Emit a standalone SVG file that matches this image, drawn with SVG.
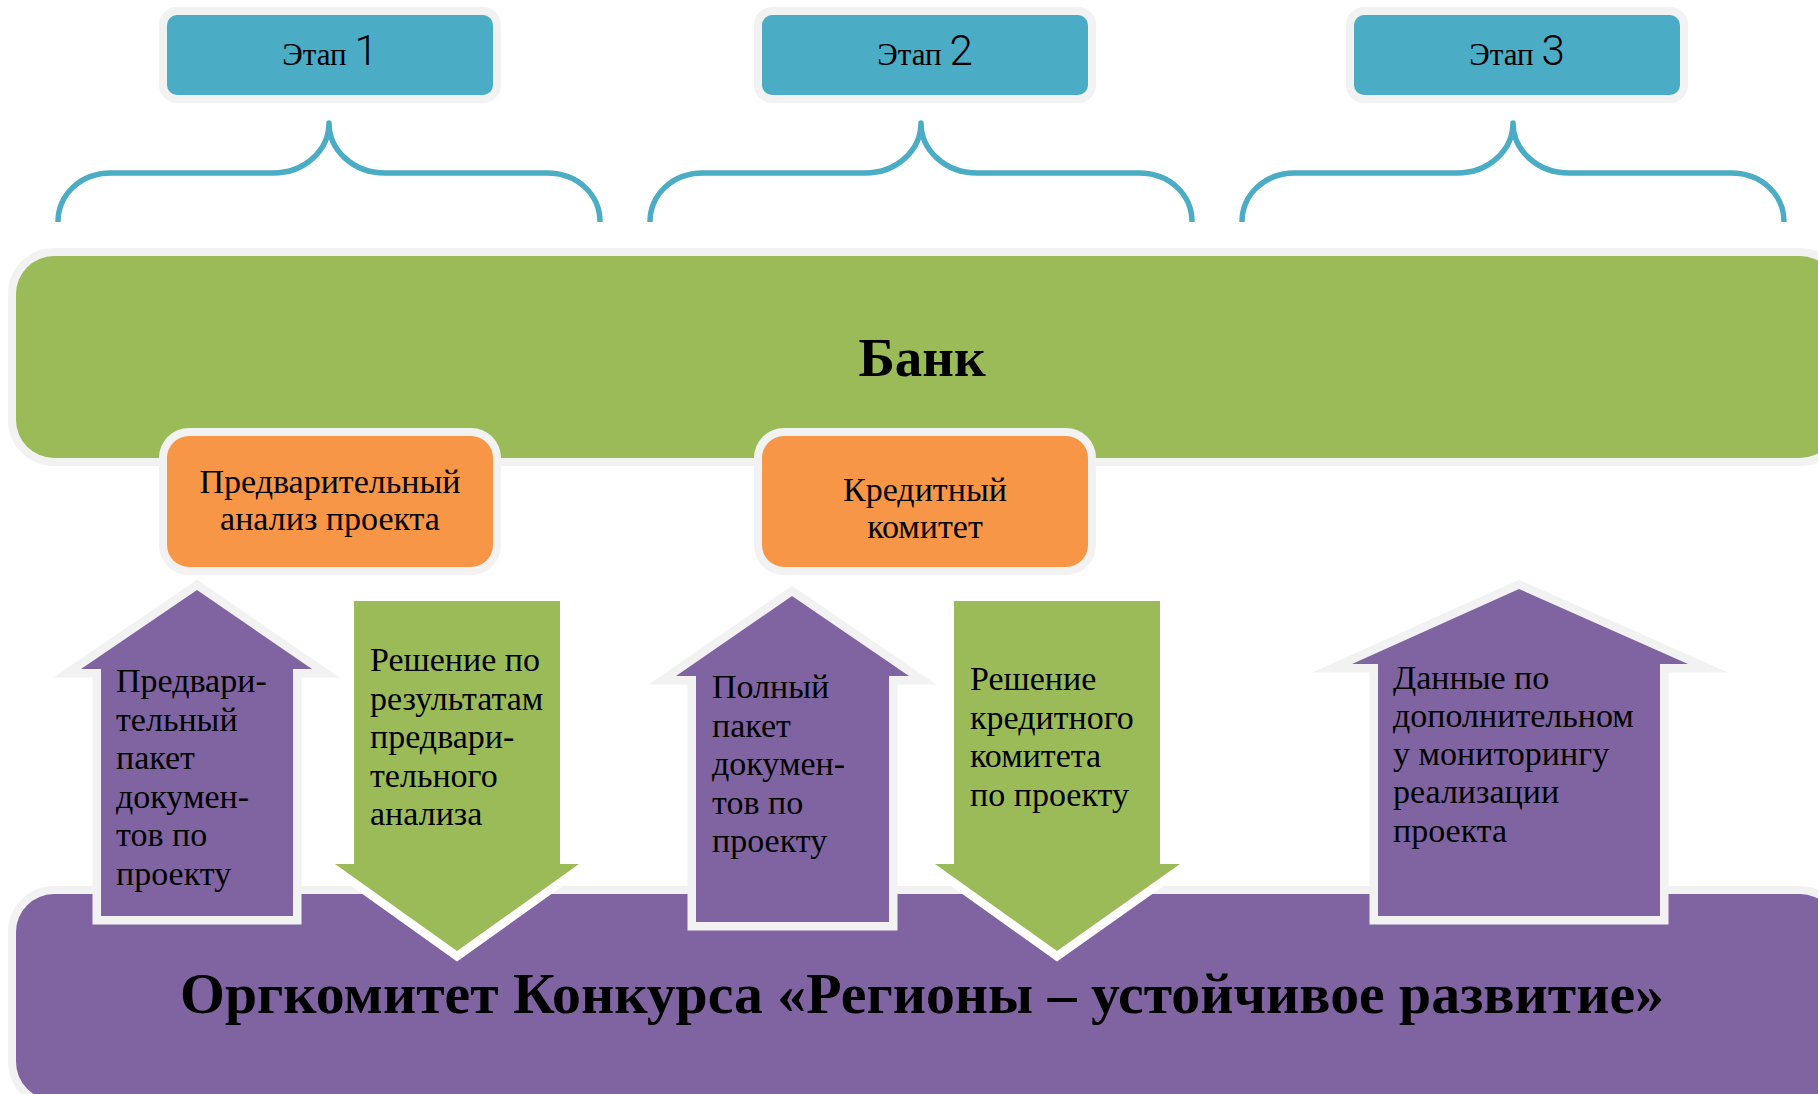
<svg xmlns="http://www.w3.org/2000/svg" width="1818" height="1094" viewBox="0 0 1818 1094">
<style>
.t{font-family:"Liberation Serif","DejaVu Serif",serif;fill:#000}
.lbl{font-size:34px}
.dig{font-family:Roboto,"Liberation Sans",sans-serif;font-size:42px;font-weight:300}
.stage{fill:#4bacc6;stroke:#f2f2f2;stroke-width:16;paint-order:stroke}
.orange{fill:#f79646;stroke:#f2f2f2;stroke-width:16;paint-order:stroke}
.bank{fill:#9bbb59;stroke:#f2f2f2;stroke-width:16;paint-order:stroke}
.org{fill:#8064a2;stroke:#f2f2f2;stroke-width:16;paint-order:stroke}
.up{fill:#8064a2;stroke:#f2f2f2;stroke-width:17;stroke-linejoin:miter;stroke-miterlimit:10;paint-order:stroke}
.down{fill:#9bbb59;stroke:#ffffff;stroke-width:17;stroke-linejoin:miter;stroke-miterlimit:10;paint-order:stroke}
.brace{fill:none;stroke:#4bacc6;stroke-width:5.5;stroke-linejoin:round}
</style>
<rect width="1818" height="1094" fill="#ffffff"/>

<g id="stage1">
<rect class="stage" x="167" y="15" width="326" height="80" rx="10"/>
<text class="t" x="330" y="65" text-anchor="middle" font-size="31">Этап <tspan class="dig">1</tspan></text>
</g>
<g id="stage2">
<rect class="stage" x="762" y="15" width="326" height="80" rx="10"/>
<text class="t" x="925" y="65" text-anchor="middle" font-size="31">Этап <tspan class="dig">2</tspan></text>
</g>
<g id="stage3">
<rect class="stage" x="1354" y="15" width="326" height="80" rx="10"/>
<text class="t" x="1517" y="65" text-anchor="middle" font-size="31">Этап <tspan class="dig">3</tspan></text>
</g>

<g id="connectors">
<path class="brace" d="M58,222 C58,195 80,173 111,173 L273,173 C305,173 329,150 329,123 C329,150 353,173 385,173 L547,173 C578,173 600,195 600,222"/>
<path class="brace" d="M650,222 C650,195 672,173 703,173 L865,173 C897,173 921,150 921,123 C921,150 945,173 977,173 L1139,173 C1170,173 1192,195 1192,222"/>
<path class="brace" d="M1242,222 C1242,195 1264,173 1295,173 L1457,173 C1489,173 1513,150 1513,123 C1513,150 1537,173 1569,173 L1731,173 C1762,173 1784,195 1784,222"/>
</g>

<g id="bank">
<rect class="bank" x="16" y="256" width="1822" height="202" rx="38"/>
<text class="t" x="922" y="376" text-anchor="middle" font-size="55" font-weight="bold">Банк</text>
</g>

<g id="preliminary-analysis">
<rect class="orange" x="167" y="436" width="326" height="131" rx="22"/>
<text class="t lbl" x="330" text-anchor="middle"><tspan x="330" y="493">Предварительный</tspan><tspan x="330" y="530">анализ проекта</tspan></text>
</g>
<g id="credit-committee">
<rect class="orange" x="762" y="436" width="326" height="131" rx="22"/>
<text class="t lbl" x="925" text-anchor="middle"><tspan x="925" y="501">Кредитный</tspan><tspan x="925" y="538">комитет</tspan></text>
</g>

<g id="orgcommittee">
<rect class="org" x="16" y="894" width="1822" height="206" rx="38"/>
<text class="t" x="922" y="1013" text-anchor="middle" font-size="57" font-weight="bold" textLength="1484" lengthAdjust="spacingAndGlyphs">Оргкомитет Конкурса «Регионы – устойчивое развитие»</text>
</g>

<g id="arrow-prelim-package">
<polygon class="up" points="197,590 312,669 293,669 293,916 101,916 101,669 81,669"/>
<text class="t lbl"><tspan x="116" y="692">Предвари-</tspan><tspan x="116" y="730.6">тельный</tspan><tspan x="116" y="769.2">пакет</tspan><tspan x="116" y="807.8">докумен-</tspan><tspan x="116" y="846.4">тов по</tspan><tspan x="116" y="885">проекту</tspan></text>
</g>
<g id="arrow-prelim-decision">
<polygon class="down" points="354,601 560,601 560,864 579,864 457,951 335,864 354,864"/>
<text class="t lbl"><tspan x="370" y="671">Решение по</tspan><tspan x="370" y="709.5">результатам</tspan><tspan x="370" y="748">предвари-</tspan><tspan x="370" y="786.5">тельного</tspan><tspan x="370" y="825">анализа</tspan></text>
</g>
<g id="arrow-full-package">
<polygon class="up" points="792,596 909,676 889,676 889,922 696,922 696,676 676,676"/>
<text class="t lbl"><tspan x="712" y="698">Полный</tspan><tspan x="712" y="736.5">пакет</tspan><tspan x="712" y="775">докумен-</tspan><tspan x="712" y="813.5">тов по</tspan><tspan x="712" y="852">проекту</tspan></text>
</g>
<g id="arrow-credit-decision">
<polygon class="down" points="954,601 1160,601 1160,864 1180,864 1057,951 935,864 954,864"/>
<text class="t lbl"><tspan x="970" y="690">Решение</tspan><tspan x="970" y="728.7">кредитного</tspan><tspan x="970" y="767.3">комитета</tspan><tspan x="970" y="806">по проекту</tspan></text>
</g>
<g id="arrow-monitoring">
<polygon class="up" points="1519,589 1688,664 1660,664 1660,916 1378,916 1378,664 1352,664"/>
<text class="t lbl"><tspan x="1393" y="689">Данные по</tspan><tspan x="1393" y="727">дополнительном</tspan><tspan x="1393" y="765">у мониторингу</tspan><tspan x="1393" y="803">реализации</tspan><tspan x="1393" y="842">проекта</tspan></text>
</g>
</svg>
